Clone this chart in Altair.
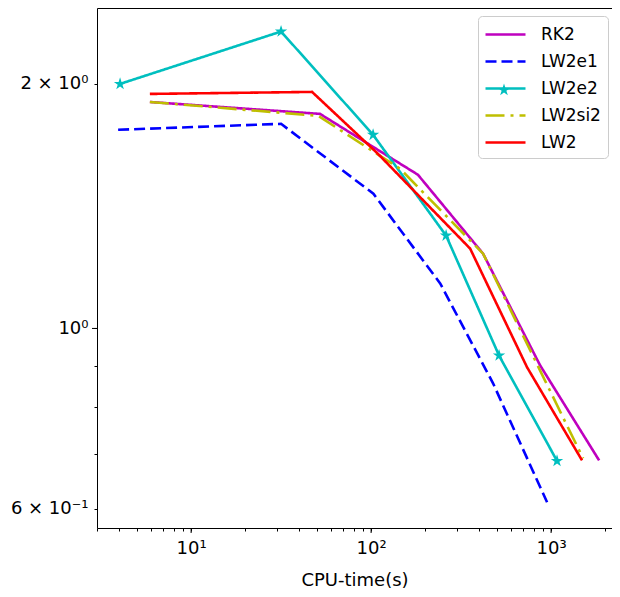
import altair as alt
import pandas as pd

methods = ["RK2", "LW2e1", "LW2e2", "LW2si2", "LW2"]
colors = ["#bf00bf", "#0000ff", "#00bfbf", "#bfbf00", "#ff0000"]
dashes = [[1, 0], [11, 5], [1, 0], [19, 6, 3, 6], [1, 0]]

rk2_t = [5.9, 52, 182, 419, 868, 1849]
rk2_e = [1.900, 1.837, 1.546, 1.236, 0.901, 0.688]
lw2e1_t = [3.93, 31.6, 103, 242, 476, 950]
lw2e1_e = [1.756, 1.786, 1.465, 1.136, 0.856, 0.611]
lw2e2_t = [4.03, 31.6, 102.6, 261, 514, 1079]
lw2e2_e = [2.0, 2.32, 1.731, 1.301, 0.926, 0.687]
lw2si2_t = [5.9, 50.8, 145, 419, 868, 1506]
lw2si2_e = [1.900, 1.827, 1.572, 1.236, 0.888, 0.692]
lw2_t = [5.9, 47, 109, 355, 735, 1486]
lw2_e = [1.944, 1.955, 1.641, 1.254, 0.896, 0.688]

x_ticks = [3, 4, 5, 6, 7, 8, 9, 10, 20, 30, 40, 50, 60, 70, 80, 90,
           100, 200, 300, 400, 500, 600, 700, 800, 900, 1000, 2000]
x_major = [10, 100, 1000]
y_ticks = [0.6, 0.7, 0.8, 0.9, 1, 2]
y_major = [1]

STAR = ("M0,-1L0.2245,-0.309L0.951,-0.309L0.3633,0.118L0.588,0.809L0,0.382"
        "L-0.588,0.809L-0.3633,0.118L-0.951,-0.309L-0.2245,-0.309Z")
LEGEND_LINE = "M-2,0L2,0"

series = {
    "RK2": (rk2_t, rk2_e),
    "LW2e1": (lw2e1_t, lw2e1_e),
    "LW2e2": (lw2e2_t, lw2e2_e),
    "LW2si2": (lw2si2_t, lw2si2_e),
    "LW2": (lw2_t, lw2_e),
}
rows = []
for m in methods:
    t, e = series[m]
    for i, (a, b) in enumerate(zip(t, e)):
        rows.append({"method": m, "t": float(a), "err": float(b), "i": i})
df = pd.DataFrame(rows)

W, H = 515, 520
FS = 18

xscale = alt.Scale(type="log", domain=[3.0, 2180], nice=False)
yscale = alt.Scale(type="log", domain=[0.568, 2.48], nice=False)

xenc = alt.X("t:Q", scale=xscale,
             axis=alt.Axis(values=x_ticks, title="CPU-time(s)", grid=False,
                           labelExpr="datum.value==10 ? '10¹' : datum.value==100 ? '10²' : datum.value==1000 ? '10³' : ''",
                           tickSize=3, labelFontSize=FS, titleFontSize=FS, labelPadding=8, titlePadding=14,
                           tickColor="black", labelColor="black", titleColor="black",
                           domain=False, titleFontWeight="normal"))
yenc = alt.Y("err:Q", scale=yscale,
             axis=alt.Axis(values=y_ticks, title=None, grid=False,
                           labelExpr="datum.value==2 ? '2 × 10⁰' : datum.value==1 ? '10⁰' : datum.value==0.6 ? '6 × 10⁻¹' : ''",
                           tickSize=3, labelFontSize=FS, labelPadding=6, tickColor="black", labelColor="black",
                           domain=False))
colenc = alt.Color("method:N", scale=alt.Scale(domain=methods, range=colors),
                   legend=alt.Legend(title=None, orient="none", legendX=381, legendY=8,
                                     symbolType=LEGEND_LINE, symbolSize=400, symbolStrokeWidth=2.6,
                                     symbolOffset=9,
                                     labelFontSize=17, labelColor="black", padding=7,
                                     rowPadding=7, strokeColor="#cccccc", fillColor="transparent",
                                     cornerRadius=4, labelOffset=24))
dashenc = alt.StrokeDash("method:N", scale=alt.Scale(domain=methods, range=dashes), legend=None)

layers = []
for m in methods:
    layers.append(
        alt.Chart(df).transform_filter(alt.datum.method == m)
        .mark_line(strokeWidth=2.6)
        .encode(x=xenc, y=yenc, color=colenc, strokeDash=dashenc, order="i:Q")
    )
stars = (alt.Chart(df).transform_filter(alt.datum.method == "LW2e2")
         .mark_point(shape=STAR, filled=True, size=170, opacity=1, color="#00bfbf")
         .encode(x=alt.X("t:Q", scale=xscale), y=alt.Y("err:Q", scale=yscale)))
layers.append(stars)

# star glyph on the LW2e2 legend entry
legend_star = (alt.Chart(pd.DataFrame({"method": ["LW2e2"]}))
               .mark_point(shape=STAR, filled=True, size=170, opacity=1, color="#00bfbf")
               .encode(x=alt.value(407), y=alt.value(82)))
layers.append(legend_star)

xmaj = (alt.Chart(pd.DataFrame({"v": x_major}))
        .mark_rule(color="black", strokeWidth=1)
        .encode(x=alt.X("v:Q", scale=xscale), y=alt.value(H), y2=alt.value(H + 5)))
ymaj = (alt.Chart(pd.DataFrame({"v": y_major}))
        .mark_rule(color="black", strokeWidth=1)
        .encode(y=alt.Y("v:Q", scale=yscale), x=alt.value(0), x2=alt.value(-5)))
layers += [xmaj, ymaj]

chart = alt.layer(*layers).properties(
    width=W, height=H,
    autosize=alt.AutoSizeParams(type="none"),
    padding={"left": 89, "top": 0, "right": 0, "bottom": 62},
).configure(font="DejaVu Sans").configure_view(stroke="black", strokeWidth=1)

chart.save("out.html", embed_options={"renderer": "svg", "actions": False})
